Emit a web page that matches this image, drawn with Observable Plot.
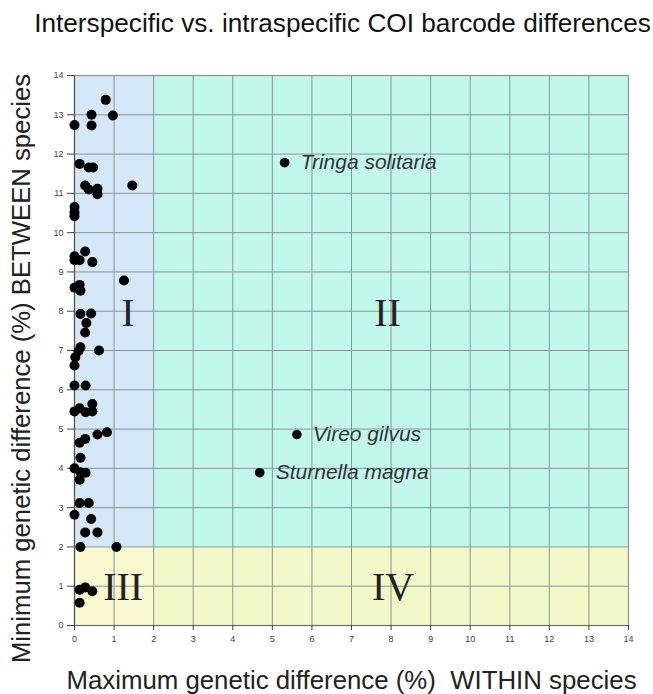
<!DOCTYPE html>
<html>
<head>
<meta charset="utf-8">
<script src="https://cdn.jsdelivr.net/npm/d3@7"></script>
<script src="https://cdn.jsdelivr.net/npm/@observablehq/plot@0.6"></script>
<style>
  html, body { margin: 0; padding: 0; background: #fff; }
  #title { width: 653px; height: 50px; box-sizing: border-box; padding: 8px 0 0 32px; line-height: 30px;
           font-family: "Liberation Sans", Arial, sans-serif; font-size: 26.2px; text-align: center; color: #111; white-space: nowrap; }
  #chart svg { display: block; }
</style>
</head>
<body>
<div id="title"></div>
<div id="chart"></div>
<script>
const titleText = "Interspecific vs. intraspecific COI barcode differences";
const xLabelText = "Maximum genetic difference (%)\u00a0 WITHIN species";
const yLabelText = "Minimum genetic difference (%) BETWEEN species";

// max within-species difference (%) for each species
const withinX = [0.79,0.43,0.97,0,0.43, 0.13,0.36,0.47,0.27,0.36,0.58,0.58,1.46, 0,0,0,
  0,0.27,0,0.13,0.45, 1.25,0,0.13,0.15, 0.15,0.42,0.3,0.27, 0.15,0.1,0.62,0.02,0,
  0,0.28, 0,0.13,0.28,0.45,0.45, 0.13,0.27,0.58,0.82, 0.15,0,0.15,0.28,0.13,
  0.13,0.36,0,0.42,0.27,0.58, 0.15,1.06, 0.13,0.27,0.45,0.13];
// min between-species difference (%)
const betweenY = [13.38,13.0,12.98,12.74,12.73, 11.75,11.66,11.66,11.2,11.1,11.12,10.98,11.2, 10.65,10.52,10.42,
  9.4,9.52,9.3,9.3,9.25, 8.78,8.6,8.67,8.52, 7.93,7.94,7.7,7.46, 7.08,6.98,7.0,6.83,6.62,
  6.11,6.11, 5.45,5.53,5.43,5.45,5.64, 4.65,4.75,4.86,4.92, 4.27,4.0,3.9,3.89,3.71,
  3.12,3.12,2.82,2.71,2.37,2.37, 2.0,2.0, 0.91,0.97,0.87,0.58];

const namedSpecies = ["Tringa solitaria", "Vireo gilvus", "Sturnella magna"];
const namedWithin = [5.31, 5.62, 4.68];
const namedBetween = [11.78, 4.86, 3.89];

// quadrants
const regionNames = ["I", "II", "III", "IV"];
const regionX1 = [0, 2, 0, 2];
const regionX2 = [2, 14, 2, 14];
const regionY1 = [2, 2, 0, 0];
const regionY2 = [14, 14, 2, 2];
const regionColors = ["#d4e8f9", "#c2f7ec", "#faf8d0", "#f3f8c9"];
const regionLabelX = [1.35, 7.91, 1.23, 8.05];
const regionLabelY = [7.63, 7.63, 0.64, 0.64];

const tickValues = [0,1,2,3,4,5,6,7,8,9,10,11,12,13,14];

document.getElementById("title").textContent = titleText;

const points = withinX.map((x, i) => ({x, y: betweenY[i]}));
const named = namedSpecies.map((name, i) => ({name, x: namedWithin[i], y: namedBetween[i]}));
const regions = regionNames.map((name, i) => ({
  name, x1: regionX1[i], x2: regionX2[i], y1: regionY1[i], y2: regionY2[i],
  fill: regionColors[i], lx: regionLabelX[i], ly: regionLabelY[i]
}));

const gridColor = "#8a9696";
const font = "Liberation Sans, Arial, sans-serif";

const chart = Plot.plot({
  width: 653,
  height: 644,
  marginTop: 25,
  marginRight: 25,
  marginBottom: 69,
  marginLeft: 74,
  style: {fontFamily: font, background: "#fff"},
  x: {domain: [0, 14], label: null},
  y: {domain: [0, 14], label: null},
  marks: [
    Plot.rect(regions, {x1: "x1", x2: "x2", y1: "y1", y2: "y2", fill: d => d.fill}),
    Plot.gridX(tickValues, {stroke: gridColor, strokeOpacity: 1, strokeWidth: 1}),
    Plot.gridY(tickValues, {stroke: gridColor, strokeOpacity: 1, strokeWidth: 1}),
    Plot.frame({stroke: gridColor, strokeWidth: 1.2}),
    Plot.ruleX([0], {stroke: "#555", strokeWidth: 1.2}),
    Plot.ruleY([0], {stroke: "#666", strokeWidth: 1}),
    Plot.axisX({ticks: tickValues, tickSize: 5, tickPadding: 5, fontSize: 9, fill: "#444", stroke: "#444", label: null}),
    Plot.axisY({ticks: tickValues, tickSize: 7, tickPadding: 4, fontSize: 9, fill: "#444", stroke: "#444", label: null}),
    Plot.text(regions, {x: "lx", y: "ly", text: "name", lineAnchor: "bottom", textAnchor: "middle",
      fontFamily: "Liberation Serif, Times New Roman, serif", fontSize: 40, fill: "#222"}),
    Plot.dot(points, {x: "x", y: "y", r: 5, fill: "#000", stroke: "none"}),
    Plot.dot(named, {x: "x", y: "y", r: 4.8, fill: "#000", stroke: "none"}),
    Plot.text(named, {x: "x", y: "y", text: "name", dx: 16, textAnchor: "start", lineAnchor: "middle",
      fontStyle: "italic", fontSize: 21, fill: "#333"}),
    Plot.text([yLabelText], {text: d => d, frameAnchor: "left", rotate: -90, dx: -53, dy: 18,
      textAnchor: "middle", lineAnchor: "middle", fontSize: 25.7, fill: "#222"}),
    Plot.text([xLabelText], {text: d => d, frameAnchor: "bottom", dy: 55,
      textAnchor: "middle", lineAnchor: "middle", fontSize: 25.8, fill: "#222"})
  ]
});
document.getElementById("chart").appendChild(chart);
</script>
</body>
</html>
